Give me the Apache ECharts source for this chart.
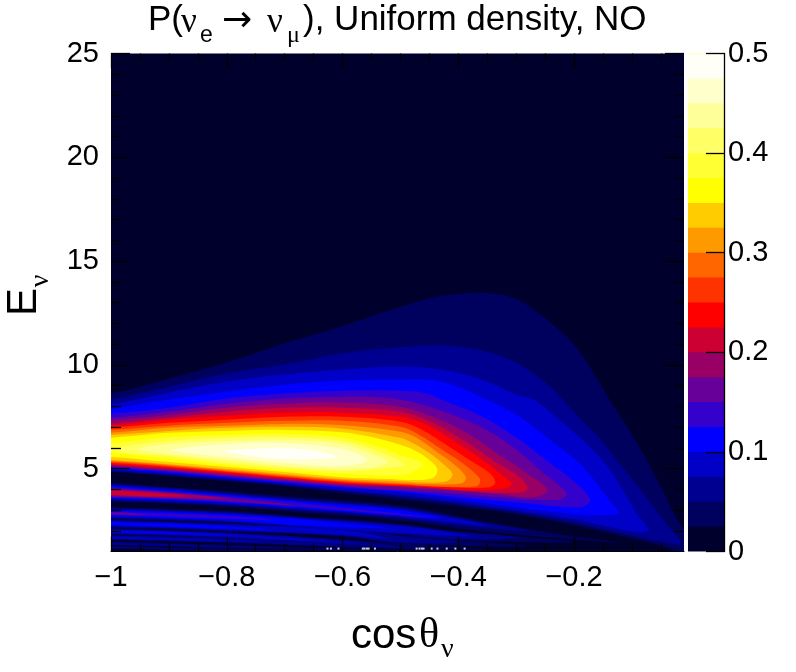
<!DOCTYPE html>
<html>
<head>
<meta charset="utf-8">
<script src="https://cdn.jsdelivr.net/npm/echarts@6/dist/echarts.min.js"></script>
<style>
  html, body { margin: 0; padding: 0; background: #fff; }
  #chart { width: 796px; height: 672px; }
</style>
</head>
<body>
<div id="chart"></div>
<script>
// colour of each band, lowest probability first
const bandColors = [
  "#00002c", "#00005f", "#000090", "#0000c6", "#0000ff",
  "#3300cc", "#660099", "#990066", "#cc0033", "#ff0000",
  "#ff3300", "#ff6600", "#ff9900", "#ffcc00", "#ffff00",
  "#ffff33", "#ffff66", "#ffff99", "#ffffcc", "#fffff8",
];
const bandEdges = [0, 0.025, 0.05, 0.075, 0.1, 0.125, 0.15, 0.175, 0.2, 0.225, 0.25, 0.275, 0.3, 0.325, 0.35, 0.375, 0.4, 0.425, 0.45, 0.475];

const xMajor = [-1, -0.8, -0.6, -0.4, -0.2];
const xMinor = [-0.95, -0.9, -0.85, -0.75, -0.7, -0.65, -0.55, -0.5, -0.45, -0.35, -0.3, -0.25, -0.15, -0.1, -0.05];
const yMajor = [5, 10, 15, 20, 25];
const yMinor = [2, 3, 4, 6, 7, 8, 9, 11, 12, 13, 14, 16, 17, 18, 19, 21, 22, 23, 24];
const barMajor = [0, 0.1, 0.2, 0.3, 0.4, 0.5];

// contour outlines [cosTheta, E], entry n is the outline of level n + 1
const mainLobe = [
  [[-1,8.61],[-0.9,9.33],[-0.8,10.11],[-0.7,11.03],[-0.6,11.86],[-0.55,12.34],[-0.5,12.78],[-0.45,13.21],[-0.4,13.41],[-0.35,13.46],[-0.3,13.17],[-0.25,12.24],[-0.2,10.98],[-0.156,9.14],[-0.139,8.32],[-0.087,6.04],[-0.047,3.95],[-0.011,2.11],[0.02,1.9],[0.02,0.9],[-0.011,0.95],[-0.05,1.28],[-0.1,1.63],[-0.2,2.26],[-0.3,2.79],[-0.4,3.18],[-0.5,3.52],[-0.6,3.81],[-0.7,4.15],[-0.8,4.39],[-0.9,4.63],[-1,4.83]],
  [[-1,8.32],[-0.9,8.95],[-0.8,9.58],[-0.7,10.01],[-0.6,10.55],[-0.5,10.84],[-0.43,10.93],[-0.36,10.69],[-0.3,10.11],[-0.25,9.14],[-0.22,8.32],[-0.179,7.1],[-0.156,6.47],[-0.122,5.26],[-0.075,3.62],[-0.041,2.35],[-0.015,1.38],[-0.05,1.48],[-0.1,1.77],[-0.2,2.4],[-0.3,2.89],[-0.4,3.28],[-0.5,3.61],[-0.6,3.91],[-0.7,4.2],[-0.8,4.44],[-0.9,4.68],[-1,4.87]],
  [[-1,8.08],[-0.9,8.66],[-0.8,9.19],[-0.7,9.53],[-0.6,9.77],[-0.5,9.92],[-0.43,9.77],[-0.36,9.29],[-0.3,8.56],[-0.27,8.32],[-0.23,7.45],[-0.179,6.23],[-0.156,5.55],[-0.134,4.78],[-0.092,2.84],[-0.072,2.02],[-0.1,1.97],[-0.2,2.55],[-0.3,2.98],[-0.4,3.37],[-0.5,3.71],[-0.6,3.95],[-0.7,4.25],[-0.8,4.49],[-0.9,4.73],[-1,4.92]],
  [[-1,7.88],[-0.9,8.32],[-0.8,8.71],[-0.7,9.04],[-0.6,9.24],[-0.5,9.29],[-0.43,9.19],[-0.351,8.32],[-0.294,7.49],[-0.237,6.28],[-0.191,5.26],[-0.156,4.1],[-0.135,3.32],[-0.123,2.84],[-0.17,2.74],[-0.2,2.79],[-0.3,3.13],[-0.4,3.52],[-0.5,3.86],[-0.6,4.05],[-0.7,4.29],[-0.8,4.54],[-0.9,4.78],[-1,4.97]],
  [[-1,7.64],[-0.9,7.93],[-0.8,8.37],[-0.7,8.61],[-0.6,8.75],[-0.5,8.75],[-0.46,8.65],[-0.429,8.32],[-0.358,7.49],[-0.294,6.38],[-0.242,5.26],[-0.196,4.29],[-0.172,3.47],[-0.19,3.13],[-0.3,3.37],[-0.4,3.61],[-0.5,3.91],[-0.6,4.1],[-0.7,4.34],[-0.8,4.58],[-0.9,4.83],[-1,5.02]],
  [[-1,7.45],[-0.9,7.74],[-0.8,8.12],[-0.7,8.37],[-0.6,8.46],[-0.53,8.42],[-0.479,8.2],[-0.415,7.64],[-0.351,6.86],[-0.299,5.89],[-0.255,4.83],[-0.217,3.95],[-0.213,3.71],[-0.23,3.47],[-0.329,3.61],[-0.415,3.81],[-0.5,3.95],[-0.6,4.15],[-0.7,4.39],[-0.8,4.63],[-0.9,4.87],[-1,5.07]],
  [[-1,7.3],[-0.9,7.59],[-0.8,7.93],[-0.7,8.12],[-0.6,8.17],[-0.5,7.98],[-0.444,7.49],[-0.386,6.72],[-0.329,5.65],[-0.282,4.78],[-0.246,3.95],[-0.272,3.61],[-0.329,3.76],[-0.415,3.95],[-0.5,4.1],[-0.6,4.2],[-0.7,4.44],[-0.8,4.68],[-0.9,4.92],[-1,5.12]],
  [[-1,7.15],[-0.9,7.45],[-0.8,7.74],[-0.7,7.93],[-0.6,7.93],[-0.5,7.73],[-0.444,7.2],[-0.386,6.28],[-0.341,5.41],[-0.299,4.68],[-0.28,4.1],[-0.289,3.86],[-0.358,3.86],[-0.5,4.2],[-0.6,4.25],[-0.7,4.49],[-0.8,4.73],[-0.9,4.97],[-1,5.17]],
  [[-1,7.06],[-0.9,7.35],[-0.8,7.54],[-0.7,7.69],[-0.6,7.69],[-0.5,7.49],[-0.455,7.11],[-0.403,6.23],[-0.358,5.41],[-0.324,4.68],[-0.308,4.29],[-0.317,4.05],[-0.386,3.95],[-0.455,4.1],[-0.5,4.15],[-0.6,4.29],[-0.7,4.54],[-0.8,4.78],[-0.9,5.02],[-1,5.21]],
  [[-1,6.96],[-0.9,7.2],[-0.8,7.35],[-0.7,7.49],[-0.6,7.49],[-0.5,7.25],[-0.462,6.86],[-0.415,6.04],[-0.375,5.31],[-0.346,4.78],[-0.336,4.34],[-0.346,4.1],[-0.415,4.1],[-0.5,4.2],[-0.6,4.34],[-0.7,4.58],[-0.8,4.83],[-0.9,5.07],[-1,5.26]],
  [[-1,6.86],[-0.9,7.06],[-0.8,7.2],[-0.7,7.3],[-0.6,7.3],[-0.5,7.01],[-0.467,6.62],[-0.427,5.89],[-0.393,5.26],[-0.368,4.68],[-0.362,4.44],[-0.368,4.15],[-0.444,4.15],[-0.5,4.25],[-0.6,4.39],[-0.7,4.63],[-0.8,4.87],[-0.9,5.12],[-1,5.31]],
  [[-1,6.72],[-0.9,6.96],[-0.8,7.06],[-0.7,7.15],[-0.6,7.08],[-0.5,6.77],[-0.472,6.48],[-0.437,5.8],[-0.406,5.17],[-0.387,4.58],[-0.394,4.29],[-0.455,4.25],[-0.5,4.29],[-0.6,4.44],[-0.7,4.68],[-0.8,4.92],[-0.9,5.17],[-1,5.36]],
  [[-1,6.62],[-0.9,6.81],[-0.8,6.96],[-0.7,7.01],[-0.6,6.92],[-0.5,6.48],[-0.479,6.23],[-0.45,5.75],[-0.424,5.17],[-0.41,4.73],[-0.42,4.39],[-0.467,4.34],[-0.5,4.39],[-0.6,4.49],[-0.7,4.73],[-0.8,4.97],[-0.9,5.21],[-1,5.41]],
  [[-1,6.48],[-0.9,6.72],[-0.8,6.81],[-0.7,6.86],[-0.6,6.75],[-0.55,6.52],[-0.5,6.14],[-0.467,5.75],[-0.444,5.26],[-0.436,4.92],[-0.444,4.54],[-0.482,4.44],[-0.52,4.49],[-0.6,4.58],[-0.7,4.83],[-0.8,5.07],[-0.9,5.31],[-1,5.55]],
  [[-1,6.23],[-0.9,6.52],[-0.8,6.62],[-0.7,6.67],[-0.6,6.5],[-0.55,6.14],[-0.5,5.65],[-0.462,5.21],[-0.49,4.73],[-0.55,4.68],[-0.7,4.92],[-0.8,5.17],[-0.9,5.46],[-1,5.75]],
  [[-0.988,5.99],[-0.9,6.33],[-0.8,6.48],[-0.7,6.52],[-0.6,6.33],[-0.55,5.94],[-0.493,5.21],[-0.527,5.02],[-0.6,4.87],[-0.7,5.02],[-0.8,5.26],[-0.9,5.6],[-0.98,5.8]],
  [[-0.953,5.94],[-0.9,6.18],[-0.8,6.33],[-0.7,6.38],[-0.6,6.18],[-0.544,5.65],[-0.522,5.31],[-0.544,5.07],[-0.6,4.97],[-0.7,5.12],[-0.8,5.41],[-0.9,5.7]],
  [[-0.896,5.89],[-0.8,6.18],[-0.7,6.23],[-0.6,5.94],[-0.557,5.41],[-0.6,5.12],[-0.7,5.26],[-0.8,5.55],[-0.85,5.7]],
  [[-0.803,5.85],[-0.76,5.94],[-0.7,5.99],[-0.648,5.85],[-0.61,5.55],[-0.648,5.46],[-0.7,5.46],[-0.76,5.6]],
];
const secondLobe = [
  [[-1,4.3],[-0.85,4],[-0.67,3.6],[-0.5,3.2],[-0.35,2.42],[-0.2,1.72],[-0.12,1.42],[-0.35,1.95],[-0.5,2.5],[-0.67,2.88],[-0.85,3.25],[-1,3.4]],
  [[-1,4.25],[-0.85,3.95],[-0.67,3.52],[-0.5,3.12],[-0.38,2.5],[-0.28,2],[-0.38,2.2],[-0.5,2.6],[-0.67,2.98],[-0.85,3.3],[-1,3.45]],
  [[-1,4.2],[-0.85,3.88],[-0.67,3.45],[-0.5,3.05],[-0.35,2.25],[-0.5,2.68],[-0.67,3.04],[-0.85,3.36],[-1,3.52]],
  [[-1,4.15],[-0.85,3.83],[-0.67,3.4],[-0.5,2.98],[-0.43,2.6],[-0.5,2.72],[-0.67,3.1],[-0.85,3.42],[-1,3.55]],
  [[-1,4.1],[-0.85,3.78],[-0.67,3.33],[-0.45,2.65],[-0.67,3.15],[-0.85,3.47],[-1,3.6]],
  [[-1,4.05],[-0.85,3.74],[-0.68,3.22],[-0.85,3.5],[-1,3.63]],
  [[-1,4],[-0.88,3.78],[-0.8,3.55],[-0.88,3.58],[-1,3.68]],
  [[-1,3.95],[-0.93,3.82],[-0.87,3.68],[-0.93,3.65],[-1,3.73]],
];
const thirdLobe = [
  [[-1,3.13],[-0.8,2.94],[-0.67,2.69],[-0.5,2.33],[-0.41,2],[-0.2,1.45],[-0.41,1.55],[-0.5,1.8],[-0.67,2.12],[-0.8,2.37],[-1,2.55]],
  [[-1,3.08],[-0.8,2.89],[-0.67,2.64],[-0.5,2.28],[-0.41,1.95],[-0.3,1.68],[-0.41,1.6],[-0.5,1.84],[-0.67,2.16],[-0.8,2.41],[-1,2.6]],
  [[-1,3.03],[-0.8,2.84],[-0.67,2.59],[-0.5,2.23],[-0.38,1.75],[-0.5,1.89],[-0.67,2.21],[-0.8,2.46],[-1,2.65]],
  [[-1,2.98],[-0.8,2.79],[-0.67,2.54],[-0.52,2.12],[-0.67,2.26],[-0.8,2.51],[-1,2.7]],
  [[-1,2.92],[-0.8,2.72],[-0.72,2.52],[-0.8,2.58],[-1,2.76]],
  [[-1,2.88],[-0.97,2.87],[-0.94,2.78],[-0.97,2.76],[-1,2.8]],
];
const fourthLobe = [
  [[-1,2.55],[-0.8,2.36],[-0.6,2.12],[-0.5,1.78],[-0.28,1.25],[-0.5,1.38],[-0.6,1.72],[-0.8,1.96],[-1,2.15]],
  [[-1,2.51],[-0.8,2.32],[-0.6,2.08],[-0.5,1.74],[-0.4,1.45],[-0.5,1.42],[-0.6,1.76],[-0.8,2],[-1,2.19]],
  [[-1,2.47],[-0.8,2.28],[-0.6,2.04],[-0.52,1.62],[-0.6,1.8],[-0.8,2.04],[-1,2.23]],
  [[-1,2.42],[-0.8,2.22],[-0.72,2.02],[-0.8,2.1],[-1,2.28]],
];
const fifthLobe = [
  [[-1,2.12],[-0.8,1.93],[-0.6,1.58],[-0.35,1.08],[-0.6,1.3],[-0.8,1.63],[-1,1.82]],
  [[-1,2.09],[-0.8,1.9],[-0.6,1.55],[-0.5,1.2],[-0.6,1.33],[-0.8,1.66],[-1,1.85]],
  [[-1,2.05],[-0.8,1.86],[-0.58,1.4],[-0.8,1.7],[-1,1.89]],
  [[-1,2.01],[-0.8,1.78],[-1,1.93]],
];
const sixthLobe = [
  [[-1,1.79],[-0.8,1.65],[-0.4,1.03],[-0.8,1.41],[-1,1.55]],
  [[-1,1.76],[-0.8,1.62],[-0.55,1.2],[-0.8,1.44],[-1,1.58]],
  [[-1,1.72],[-0.75,1.48],[-1,1.62]],
];
const seventhLobe = [
  [[-1,1.48],[-0.8,1.32],[-0.5,1.02],[-0.8,1.16],[-1,1.3]],
  [[-1,1.45],[-0.7,1.15],[-1,1.33]],
];
const eighthLobe = [
  [[-1,1.27],[-0.8,1.13],[-0.6,1],[-0.8,1.03],[-1,1.13]],
  [[-1,1.23],[-0.8,1.08],[-1,1.17]],
];

// white specks along the lowest energies
const speckCos = [-0.626, -0.62, -0.607, -0.565, -0.562, -0.558, -0.555, -0.544, -0.472, -0.467, -0.463, -0.46, -0.446, -0.436, -0.42, -0.405, -0.389];
const speckE = [1.14, 1.14, 1.14, 1.14, 1.14, 1.14, 1.14, 1.14, 1.14, 1.14, 1.14, 1.14, 1.14, 1.14, 1.14, 1.14, 1.14];

const lobes = [mainLobe, secondLobe, thirdLobe, fourthLobe, fifthLobe, sixthLobe, seventhLobe, eighthLobe];

// paint lowest levels first so higher ones sit on top
const contours = [];
lobes.forEach((lobe) => {
  lobe.forEach((outline, i) => {
    contours.push({ level: i + 1, outline: outline });
  });
});
contours.sort((a, b) => a.level - b.level);

const labelFont = { fontFamily: "Liberation Sans", fontSize: 29, color: "#000" };
const fmtMinus = (v) => String(v).replace("-", "\u2212");

const chart = echarts.init(document.getElementById("chart"), null, { renderer: "canvas" });

const tickAxis = (extra) => Object.assign({
  type: "value",
  gridIndex: 0,
  z: 5,
  splitLine: { show: false },
  axisLine: { show: false },
  axisLabel: { show: false },
}, extra);

const ticks = (values, length) => ({
  show: true,
  inside: true,
  length: length,
  customValues: values,
  lineStyle: { color: "#000", width: 1.3 },
});

const textItem = (text, x, y, font, extra) => Object.assign({
  type: "text",
  x: x,
  y: y,
  style: { text: text, font: font, fill: "#000", verticalAlign: "middle" },
}, extra);

chart.setOption({
  animation: false,
  tooltip: false,
  grid: [
    { left: 111, top: 53.5, width: 573, height: 498, show: true, backgroundColor: bandColors[0], borderWidth: 0 },
    { left: 688, top: 53.5, width: 36, height: 498 },
  ],
  xAxis: [
    tickAxis({
      min: -1, max: -0.01, position: "bottom",
      axisLine: { show: true, lineStyle: { color: "#000" } },
      axisTick: ticks(xMajor, 15),
      axisLabel: Object.assign({ show: true, margin: 12, customValues: xMajor, formatter: fmtMinus, hideOverlap: false }, labelFont),
    }),
    tickAxis({ min: -1, max: -0.01, position: "bottom", axisTick: ticks(xMinor, 8) }),
    tickAxis({ min: -1, max: -0.01, position: "top", axisTick: ticks(xMajor, 15) }),
    tickAxis({ min: -1, max: -0.01, position: "top", axisTick: ticks(xMinor, 8) }),
    { type: "value", gridIndex: 1, min: 0, max: 1, show: false },
  ],
  yAxis: [
    tickAxis({
      min: 1, max: 25, position: "left",
      axisTick: ticks(yMajor, 19),
      axisLabel: Object.assign({ show: true, margin: 12, customValues: yMajor }, labelFont),
    }),
    tickAxis({ min: 1, max: 25, position: "left", axisTick: ticks(yMinor, 10) }),
    tickAxis({ min: 1, max: 25, position: "right", axisTick: ticks(yMajor, 19) }),
    tickAxis({ min: 1, max: 25, position: "right", axisTick: ticks(yMinor, 10) }),
    {
      type: "value",
      gridIndex: 1,
      min: 0,
      max: 0.5,
      position: "right",
      z: 5,
      splitLine: { show: false },
      axisLine: { show: true, onZero: false, lineStyle: { color: "#000", width: 1.3 } },
      axisTick: ticks(barMajor, 18),
      axisLabel: Object.assign({ show: true, margin: 4, customValues: barMajor }, labelFont),
    },
  ],
  series: [
    {
      type: "custom",
      xAxisIndex: 0,
      yAxisIndex: 0,
      clip: true,
      silent: true,
      data: contours.map((c) => [c.level]),
      encode: {},
      renderItem: (params, api) => {
        const c = contours[params.dataIndex];
        let outline = c.outline;
        // carry outlines that reach the left edge past it, so the clip gives a straight edge
        if (outline[0][0] === -1) {
          outline = [[-1.03, outline[0][1]], ...outline, [-1.03, outline[outline.length - 1][1]]];
        }
        return {
          type: "polygon",
          shape: { points: outline.map((p) => api.coord(p)), smooth: 0.35 },
          style: { fill: bandColors[c.level] },
        };
      },
    },
    {
      type: "scatter",
      xAxisIndex: 0,
      yAxisIndex: 0,
      symbol: "rect",
      symbolSize: 2,
      silent: true,
      z: 3,
      itemStyle: { color: "#fff" },
      data: speckCos.map((c, i) => [c, speckE[i]]),
    },
    {
      // colour bar: every band runs up to the top and the next one covers it, no seams
      type: "custom",
      xAxisIndex: 4,
      yAxisIndex: 4,
      silent: true,
      data: bandEdges.map((v) => [0, v]),
      encode: { x: 0, y: 1 },
      renderItem: (params, api) => {
        const low = api.coord([0, api.value(1)]);
        const high = api.coord([1, 0.5]);
        return {
          type: "rect",
          shape: { x: low[0], y: high[1], width: high[0] - low[0], height: low[1] - high[1] },
          style: { fill: bandColors[params.dataIndex] },
        };
      },
    },
  ],
  graphic: [
    textItem("P(", 148, 20.5, '35px "Liberation Sans"'),
    textItem("\u03bd", 181, 23, '35px "Liberation Serif"'),
    textItem("e", 200, 36, '23px "Liberation Sans"'),
    textItem("\u2192", 222, 22, '36px "DejaVu Sans"'),
    textItem("\u03bd", 267, 23, '35px "Liberation Serif"'),
    textItem("\u03bc", 287, 36, '24px "Liberation Serif"'),
    textItem("), Uniform density, NO", 303, 20.5, '35px "Liberation Sans"'),
    textItem("cos", 351, 636, '42px "Liberation Sans"'),
    textItem("\u03b8", 419, 636, '42px "Liberation Serif"'),
    textItem("\u03bd", 441, 650, '28px "Liberation Serif"'),
    textItem("E", 24, 302, '42px "Liberation Sans"', {
      rotation: Math.PI / 2,
      style: { text: "E", font: '42px "Liberation Sans"', fill: "#000", align: "center", verticalAlign: "middle" },
    }),
    textItem("\u03bd", 41, 281, '28px "Liberation Serif"', {
      rotation: Math.PI / 2,
      style: { text: "\u03bd", font: '28px "Liberation Serif"', fill: "#000", align: "center", verticalAlign: "middle" },
    }),
  ],
});
</script>
</body>
</html>
